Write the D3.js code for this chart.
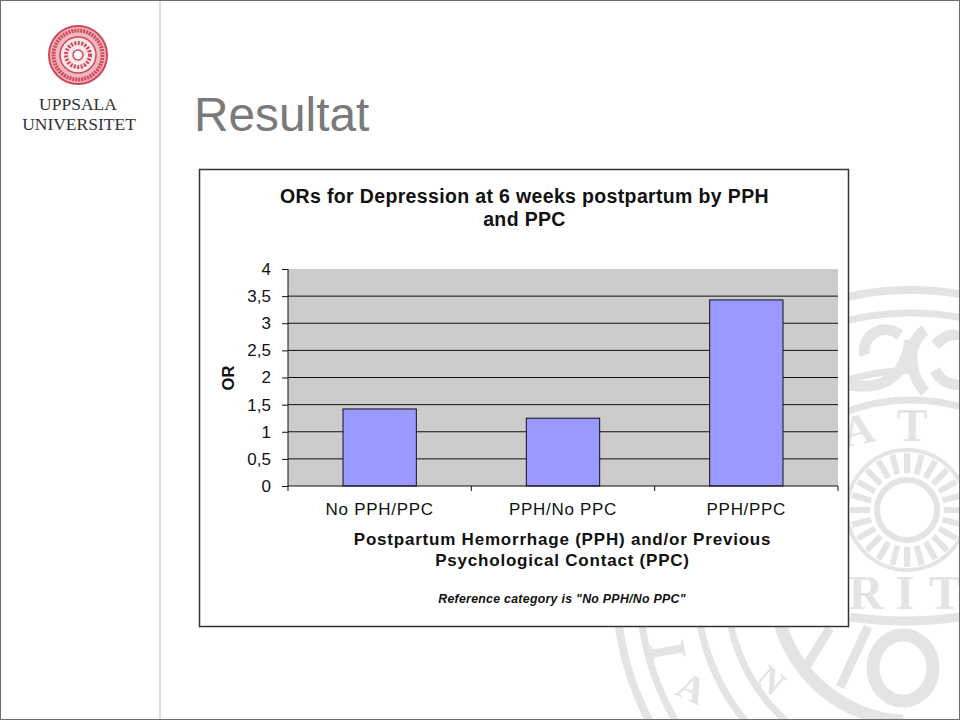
<!DOCTYPE html>
<html>
<head>
<meta charset="utf-8">
<script src="https://cdn.jsdelivr.net/npm/d3@7"></script>
<style>
html, body { margin: 0; padding: 0; background: #fff; }
svg { display: block; font-family: "Liberation Sans", Arial, sans-serif; }
</style>
</head>
<body>
<svg id="slide" width="960" height="720"></svg>
<script>
// Chart data
var categories = ["No PPH/PPC", "PPH/No PPC", "PPH/PPC"];
var orValues = [1.42, 1.25, 3.43];
var yTicks = [0, 0.5, 1, 1.5, 2, 2.5, 3, 3.5, 4];
var titleLines = ["ORs for Depression at 6 weeks postpartum by PPH", "and PPC"];
var xTitleLines = ["Postpartum Hemorrhage (PPH) and/or Previous", "Psychological Contact (PPC)"];
var footNote = 'Reference category is "No PPH/No PPC"';

var svg = d3.select("#slide");
var SEAL_COLOR = "#e4e4e4";
var INK = "#111";

/**
 * Slide background: faint seal, side rule and frame
 */
function drawBackground() {
    var seal = svg.append("g").attr("fill", "none").attr("stroke", SEAL_COLOR);

    // outer rings share one centre
    var ring = seal.append("g").attr("transform", "translate(911,585)");
    [[295, 8], [272, 7], [185, 7]].forEach(function(c) {
        ring.append("circle").attr("r", c[0]).attr("stroke-width", c[1]);
    });
    var arc = d3.arc();
    ring.append("path")
        .attr("d", arc({innerRadius: 211, outerRadius: 218, startAngle: Math.PI, endAngle: 2 * Math.PI}))
        .attr("fill", SEAL_COLOR).attr("stroke", "none");
    ring.append("path")
        .attr("d", arc({innerRadius: 130, outerRadius: 143, startAngle: 3.2, endAngle: 4.45}))
        .attr("fill", SEAL_COLOR).attr("stroke", "none");

    // sun in the middle
    seal.append("circle").attr("cx", 907).attr("cy", 510).attr("r", 30).attr("stroke-width", 6);
    seal.append("circle").attr("cx", 907).attr("cy", 510).attr("r", 60).attr("stroke-width", 4);
    d3.range(0, 360, 15).forEach(function(a) {
        var r = a * Math.PI / 180;
        seal.append("line")
            .attr("x1", 907 + 37 * Math.cos(r)).attr("y1", 510 + 37 * Math.sin(r))
            .attr("x2", 907 + 57 * Math.cos(r)).attr("y2", 510 + 57 * Math.sin(r))
            .attr("stroke-width", 6);
    });

    // scroll work above the sun, shield below it
    seal.append("path")
        .attr("d", "M925 330C905 345 910 375 925 392M900 335C880 320 860 340 865 355M850 385C880 390 905 380 910 340M935 345C950 330 960 335 960 340M935 370C945 390 960 380 960 390")
        .attr("stroke-width", 11);
    seal.append("path")
        .attr("d", "M830 628L807 665M868 627L840 687M850 617Q905 625 960 617")
        .attr("stroke-width", 9);
    seal.append("ellipse")
        .attr("cx", 903).attr("cy", 668).attr("rx", 30).attr("ry", 33)
        .attr("stroke-width", 13);

    var letters = [["T", 912, 425, 46, 0], ["A", 858, 430, 44, -12], ["R", 866, 592, 48, 0], ["I", 905, 592, 48, 0], ["T", 945, 592, 48, 0],
        ["I", 668, 651, 52, 80], ["A", 692, 688, 38, 25], ["N", 771, 680, 34, 40]];
    svg.selectAll(".sealLetter")
        .data(letters)
        .enter().append("text")
        .attr("class", "sealLetter")
        .attr("transform", function(d) { return "translate(" + d[1] + "," + d[2] + ") rotate(" + d[4] + ")"; })
        .attr("text-anchor", "middle")
        .attr("dominant-baseline", "central")
        .attr("font-family", "Liberation Serif")
        .attr("font-weight", "bold")
        .attr("font-size", function(d) { return d[3]; })
        .attr("fill", SEAL_COLOR)
        .text(function(d) { return d[0]; });

    svg.append("line")
        .attr("x1", 160).attr("x2", 160).attr("y1", 0).attr("y2", 720)
        .attr("stroke", "#dcdcdc").attr("stroke-width", 2);
    svg.append("rect")
        .attr("x", 0.5).attr("y", 0.5).attr("width", 959).attr("height", 719)
        .attr("fill", "none").attr("stroke", "#6e6e6e");
}

/**
 * Uppsala logo in the top left corner
 */
function drawLogo() {
    var red = "#d2465a";
    var logo = svg.append("g").attr("transform", "translate(78,55)");
    logo.append("circle").attr("r", 29).attr("fill", "#f0b9c0").attr("stroke", red).attr("stroke-width", 2);
    logo.append("circle").attr("r", 24.5).attr("fill", "none").attr("stroke", red).attr("stroke-width", 4).attr("stroke-dasharray", "2 1");
    logo.append("circle").attr("r", 18).attr("fill", "#fbe9ea").attr("stroke", red).attr("stroke-width", 1.5);
    logo.append("circle").attr("r", 12).attr("fill", "none").attr("stroke", red).attr("stroke-width", 4).attr("stroke-dasharray", "2 1.5");
    logo.append("circle").attr("r", 5).attr("fill", "#fff").attr("stroke", red).attr("stroke-width", 1.5);

    svg.append("text")
        .attr("x", 78).attr("y", 110)
        .attr("text-anchor", "middle")
        .attr("font-family", "Liberation Serif").attr("font-size", 17.5).attr("fill", "#333")
        .text("UPPSALA");
    svg.append("text")
        .attr("x", 79).attr("y", 130)
        .attr("text-anchor", "middle")
        .attr("font-family", "Liberation Serif").attr("font-size", 17.5).attr("fill", "#333")
        .text("UNIVERSITET");
}

/**
 * Draw the framed bar chart
 */
function drawChart() {
    svg.append("rect")
        .attr("x", 199.5).attr("y", 169.5).attr("width", 649).attr("height", 457)
        .attr("fill", "#fff").attr("stroke", "#333").attr("stroke-width", 1.5);

    var xScale = d3.scaleBand().domain(categories).range([288, 838]);
    var yScale = d3.scaleLinear().domain([0, 4]).range([486, 269]);

    svg.append("rect")
        .attr("x", 288).attr("y", 269).attr("width", 550).attr("height", 217)
        .attr("fill", "#cccccc");

    // gridlines, none along the top edge
    svg.selectAll(".grid")
        .data(yTicks.slice(1, -1))
        .enter().append("line")
        .attr("class", "grid")
        .attr("x1", 288).attr("x2", 838)
        .attr("y1", function(d) { return yScale(d); })
        .attr("y2", function(d) { return yScale(d); })
        .attr("stroke", INK)
        .attr("stroke-width", 1);

    svg.selectAll(".bar")
        .data(orValues)
        .enter().append("rect")
        .attr("class", "bar")
        .attr("x", function(d, i) { return xScale(categories[i]) + xScale.bandwidth() * 0.3; })
        .attr("y", function(d) { return yScale(d); })
        .attr("width", xScale.bandwidth() * 0.4)
        .attr("height", function(d) { return 486 - yScale(d); })
        .attr("fill", "#9999ff")
        .attr("stroke", INK)
        .attr("stroke-width", 1);

    var yAxis = svg.append("g")
        .attr("transform", "translate(288,0)")
        .call(d3.axisLeft(yScale).tickValues(yTicks).tickSize(6).tickPadding(11)
            .tickFormat(function(d) { return String(d).replace(".", ","); }));
    yAxis.selectAll("text").attr("font-size", 17).attr("font-family", "Liberation Sans").attr("fill", INK);
    yAxis.selectAll("line, path").attr("stroke", INK);
    yAxis.select("path").attr("d", "M0,269V486");

    // category ticks sit between the bars
    var xAxis = svg.append("g")
        .attr("transform", "translate(0,486)")
        .call(d3.axisBottom(xScale).tickSize(0).tickPadding(17));
    xAxis.selectAll("text").attr("font-size", 17).attr("font-family", "Liberation Sans").attr("fill", INK).attr("letter-spacing", 0.7);
    xAxis.select("path").attr("d", "M288,0H838").attr("stroke", INK);
    xAxis.selectAll(".sep")
        .data(xScale.domain().map(function(d) { return xScale(d); }).concat([838]))
        .enter().append("line")
        .attr("class", "sep")
        .attr("x1", function(d) { return d; }).attr("x2", function(d) { return d; })
        .attr("y1", 0).attr("y2", 5)
        .attr("stroke", INK);

    svg.selectAll(".chartTitle")
        .data(titleLines)
        .enter().append("text")
        .attr("class", "chartTitle")
        .attr("x", 524.5)
        .attr("y", function(d, i) { return 202.5 + i * 23; })
        .attr("text-anchor", "middle")
        .attr("font-size", 19.5).attr("font-weight", "bold").attr("fill", INK)
        .attr("letter-spacing", 0.35)
        .text(function(d) { return d; });

    svg.append("text")
        .attr("transform", "translate(234,378) rotate(-90)")
        .attr("text-anchor", "middle")
        .attr("font-size", 16.5).attr("font-weight", "bold").attr("fill", INK)
        .text("OR");

    svg.selectAll(".xTitle")
        .data(xTitleLines)
        .enter().append("text")
        .attr("class", "xTitle")
        .attr("x", 562.5)
        .attr("y", function(d, i) { return 545 + i * 21; })
        .attr("text-anchor", "middle")
        .attr("font-size", 17).attr("font-weight", "bold").attr("fill", INK)
        .attr("letter-spacing", 0.79)
        .text(function(d) { return d; });

    svg.append("text")
        .attr("x", 562).attr("y", 603)
        .attr("text-anchor", "middle")
        .attr("font-size", 12.3).attr("font-weight", "bold").attr("font-style", "italic").attr("fill", INK)
        .attr("letter-spacing", 0.3)
        .text(footNote);
}

drawBackground();
drawLogo();

svg.append("text")
    .attr("x", 194).attr("y", 131)
    .attr("font-size", 47.8).attr("fill", "#7a7a7a")
    .text("Resultat");

drawChart();
</script>
</body>
</html>
